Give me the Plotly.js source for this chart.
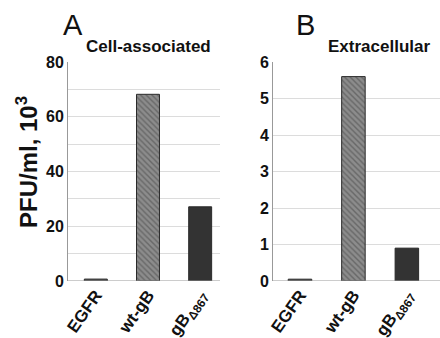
<!DOCTYPE html>
<html><head><meta charset="utf-8">
<script src="https://cdn.plot.ly/plotly-3.0.1.min.js"></script>
<style>html,body{margin:0;padding:0;background:#fff}#chart{width:440px;height:338px}</style>
</head><body><div id="chart"></div>
<script>
const categories = ["EGFR", "wt-gB", "gB<sub>Δ867</sub>"];
const cellAssociated = [0.7, 68.2, 27.1];
const extracellular = [0.05, 5.6, 0.9];
const ticksA = [0, 20, 40, 60, 80];
const ticksB = [0, 1, 2, 3, 4, 5, 6];

const barColors = ["#5a5a5a", "#8c8c8c", "#333333"];
const patterns = ["", "\\", ""];

function barTrace(y, xa, ya) {
  return {
    type: "bar", x: categories, y: y, xaxis: xa, yaxis: ya, width: 0.44,
    marker: {
      color: barColors,
      line: {color: "#2a2a2a", width: 1},
      pattern: {shape: patterns, fillmode: "overlay", fgcolor: "#555555", size: 4, solidity: 0.35}
    },
    hoverinfo: "none", showlegend: false
  };
}

const H = 338, W = 440;
const yTop = 1 - 62 / H, yBot = 1 - 281 / H;
const FF = "Liberation Sans, Arial, sans-serif";
const tickFont = {family: FF, size: 16, color: "#111", weight: "bold"};
const xTickFont = {family: FF, size: 17, color: "#111", weight: "bold"};
const grid = "#dcdcdc";

const layout = {
  width: W, height: H,
  margin: {l: 0, r: 0, t: 0, b: 0},
  paper_bgcolor: "#fff", plot_bgcolor: "#fff",
  xaxis: {domain: [68 / W, 220 / W], range: [-0.533, 2.38], showgrid: false, zeroline: false,
    showline: false, tickangle: -55, tickfont: xTickFont, ticks: "", anchor: "y"},
  yaxis: {domain: [yBot, yTop], range: [0, 80], tickvals: ticksA, showgrid: true, gridcolor: grid,
    showline: true, linecolor: "#999", linewidth: 1, zeroline: false, ticks: "", tickfont: tickFont,
    minor: {dtick: 10, showgrid: true, gridcolor: grid, gridwidth: 1}, anchor: "x"},
  xaxis2: {domain: [273 / W, 1], range: [-0.505, 2.62], showgrid: false, zeroline: false,
    showline: false, tickangle: -55, tickfont: xTickFont, ticks: "", anchor: "y2"},
  yaxis2: {domain: [yBot, yTop], range: [0, 6], tickvals: ticksB, showgrid: true, gridcolor: grid,
    showline: true, linecolor: "#999", linewidth: 1, zeroline: false, ticks: "", tickfont: tickFont, anchor: "x2"},
  shapes: [
    {type: "line", xref: "x domain", yref: "y", x0: 0, x1: 1, y0: 0, y1: 0, line: {color: "#999", width: 1}},
    {type: "line", xref: "x2 domain", yref: "y2", x0: 0, x1: 1, y0: 0, y1: 0, line: {color: "#999", width: 1}}
  ],
  annotations: [
    {text: "PFU/ml, 10<sup>3</sup>", xref: "paper", yref: "paper", x: 27 / W, y: 1 - 162 / H,
      xanchor: "center", yanchor: "middle",
      textangle: -90, showarrow: false, font: {family: FF, size: 24, color: "#111", weight: "bold"}},
    {text: "A", xref: "paper", yref: "paper", x: 61 / W, y: 1 - 25 / H, xanchor: "left", yanchor: "middle", showarrow: false,
      font: {family: FF, size: 29, color: "#111"}},
    {text: "Cell-associated", xref: "paper", yref: "paper", x: 84 / W, y: 1 - 46 / H, xanchor: "left", yanchor: "middle", showarrow: false,
      font: {family: FF, size: 17, color: "#111", weight: "bold"}},
    {text: "B", xref: "paper", yref: "paper", x: 294 / W, y: 1 - 25 / H, xanchor: "left", yanchor: "middle", showarrow: false,
      font: {family: FF, size: 29, color: "#111"}},
    {text: "Extracellular", xref: "paper", yref: "paper", x: 326 / W, y: 1 - 46 / H, xanchor: "left", yanchor: "middle", showarrow: false,
      font: {family: FF, size: 17, color: "#111", weight: "bold"}}
  ]
};

Plotly.newPlot("chart", [barTrace(cellAssociated, "x", "y"), barTrace(extracellular, "x2", "y2")], layout, {displayModeBar: false, staticPlot: true});
</script></body></html>
